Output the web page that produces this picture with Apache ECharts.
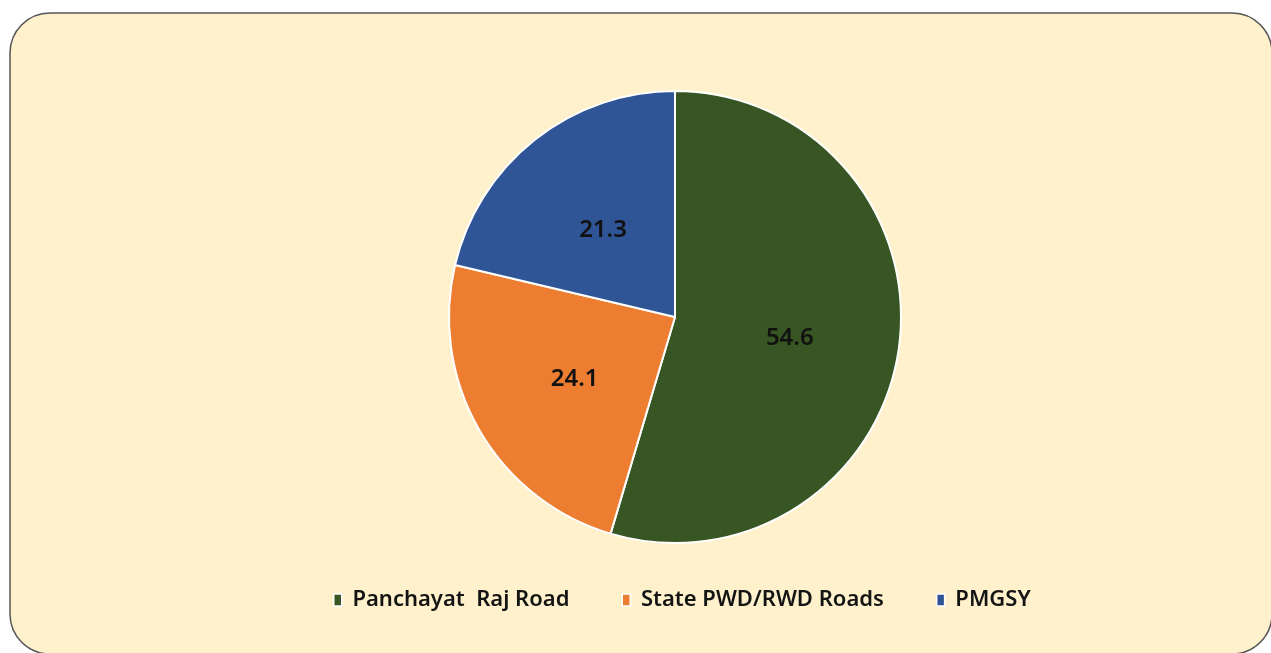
<!DOCTYPE html>
<html>
<head>
<meta charset="utf-8">
<script src="https://cdn.jsdelivr.net/npm/echarts@6/dist/echarts.min.js"></script>
<style>
  html, body { margin: 0; padding: 0; background: #ffffff; }
  #chart { width: 1271px; height: 653px; }
</style>
</head>
<body>
<div id="chart"></div>
<script>
// Road network share by type (%)
const categories = ['Panchayat  Raj Road', 'State PWD/RWD Roads', 'PMGSY'];
const shares = [54.6, 24.1, 21.3];
const colors = ['#375623', '#ED7D31', '#2F5597'];

const chart = echarts.init(document.getElementById('chart'));

chart.setOption({
  backgroundColor: '#ffffff',
  animation: false,
  graphic: [{
    type: 'rect',
    z: -10,
    shape: { x: 10, y: 13, width: 1262, height: 641, r: 40 },
    style: { fill: '#FFF1CC', stroke: '#555555', lineWidth: 1.5 }
  }],
  legend: {
    data: categories,
    left: 328,
    top: 584,
    icon: 'rect',
    itemWidth: 8,
    itemHeight: 12,
    itemGap: 52,
    formatter: name => ' ' + name,
    itemStyle: { borderColor: '#ffffff', borderWidth: 1.5 },
    textStyle: {
      fontFamily: 'Noto Sans',
      fontSize: 22,
      fontWeight: 600,
      color: '#141414'
    }
  },
  series: [{
    type: 'pie',
    center: [675, 317],
    radius: ['0%', 226],
    startAngle: 90,
    clockwise: true,
    itemStyle: { borderColor: '#ffffff', borderWidth: 2 },
    label: {
      show: true,
      position: 'inside',
      offset: [0, 4],
      formatter: p => p.value.toFixed(1),
      fontFamily: 'Noto Sans',
      fontSize: 24,
      fontWeight: 600,
      color: '#111111'
    },
    labelLine: { show: false },
    emphasis: { disabled: true },
    data: categories.map((name, i) => ({
      name,
      value: shares[i],
      itemStyle: { color: colors[i] }
    }))
  }]
});
</script>
</body>
</html>
